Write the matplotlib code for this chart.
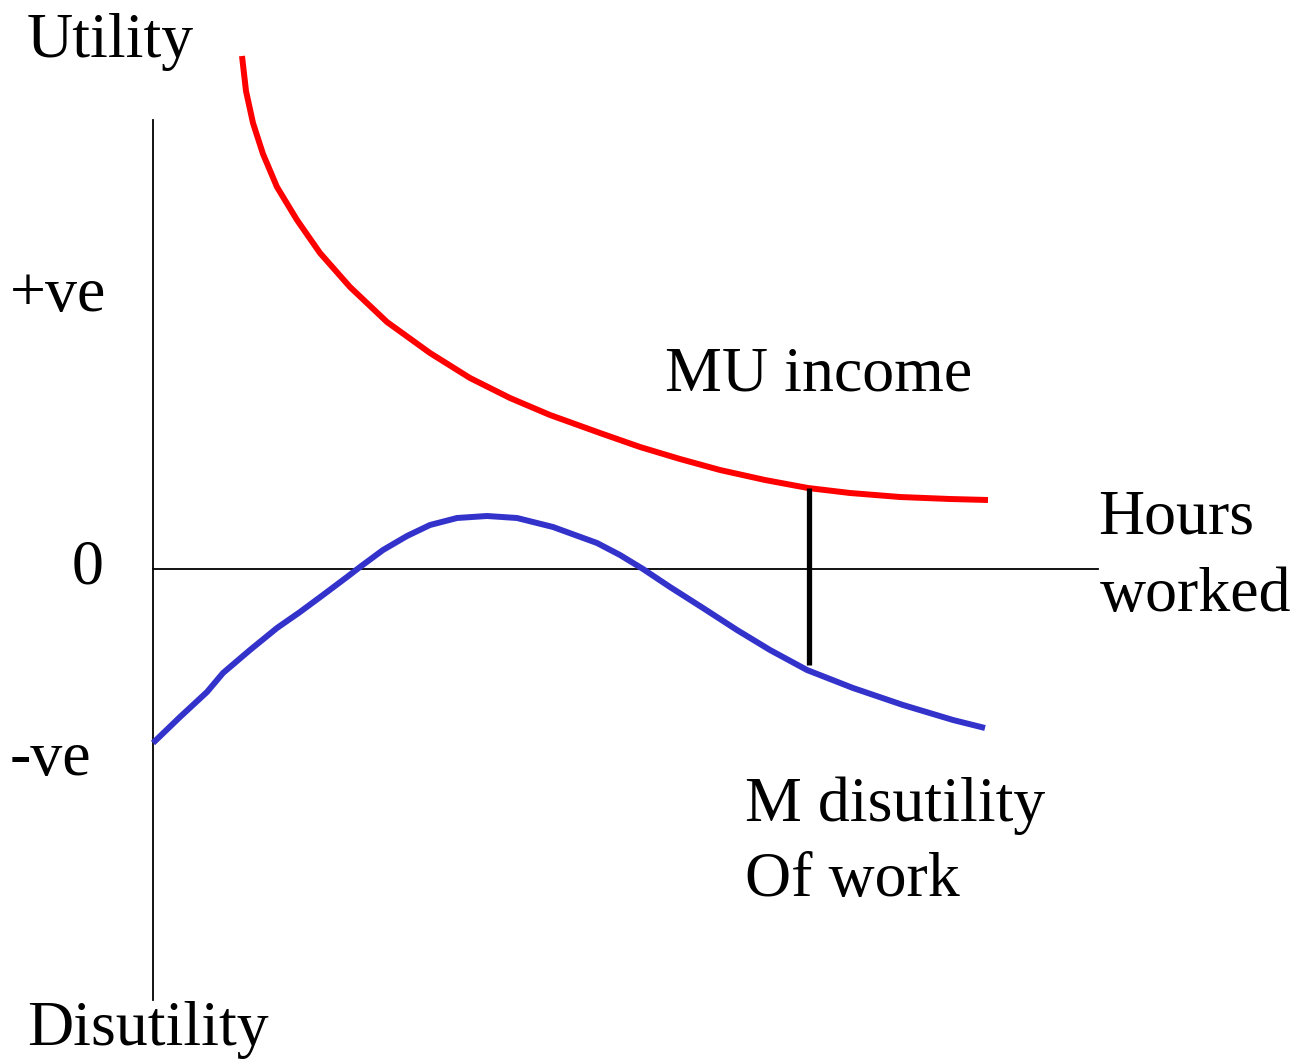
import matplotlib.pyplot as plt

# curve data (hours worked, utility)
mu_x = [0.89, 0.93, 1.00, 1.10, 1.24, 1.44, 1.67, 1.97, 2.34, 2.77, 3.17, 3.57,
        3.97, 4.47, 4.87, 5.27, 5.67, 6.12, 6.55, 6.97, 7.47, 7.97, 8.35]
mu_y = [5.13, 4.78, 4.46, 4.15, 3.82, 3.49, 3.16, 2.82, 2.47, 2.16, 1.91, 1.71,
        1.54, 1.36, 1.22, 1.10, 0.99, 0.89, 0.81, 0.76, 0.72, 0.70, 0.69]

dis_x = [0.00, 0.27, 0.54, 0.70, 0.97, 1.24, 1.47, 1.70, 1.94, 2.07, 2.30, 2.54,
         2.77, 3.04, 3.34, 3.64, 4.00, 4.44, 4.67, 4.90, 5.17, 5.50, 5.84, 6.17,
         6.54, 7.00, 7.50, 8.00, 8.32]
dis_y = [-1.74, -1.48, -1.23, -1.04, -0.81, -0.59, -0.43, -0.26, -0.08, 0.02, 0.19, 0.33,
         0.44, 0.51, 0.53, 0.51, 0.42, 0.26, 0.14, 0.00, -0.18, -0.39, -0.61, -0.81,
         -1.01, -1.19, -1.36, -1.51, -1.59]

gap_x = 6.56
gap_y = [0.81, -0.96]

plt.rcParams['font.family'] = ['Liberation Serif', 'DejaVu Serif']

fig = plt.figure(figsize=(13.06, 10.61), dpi=100)
ax = fig.add_axes([0, 0, 1, 1])
ax.set_xlim(-1.53, 11.53)
ax.set_ylim(-4.92, 5.69)
ax.axis('off')

# axes lines
ax.plot([0, 0], [4.49, -4.31], color='black', lw=1.3)
ax.plot([0, 9.45], [0, 0], color='black', lw=1.3)

ax.plot(mu_x, mu_y, color='#ff0000', lw=4.3, solid_capstyle='butt', solid_joinstyle='round')
ax.plot(dis_x, dis_y, color='#3333cc', lw=4.3, solid_capstyle='butt', solid_joinstyle='round')
ax.plot([gap_x, gap_x], gap_y, color='black', lw=3.8, solid_capstyle='butt')

fs = 46
ax.text(-1.26, 5.27, 'Utility', fontsize=fs, va='center', ha='left')
ax.text(-1.43, 2.73, '+ve', fontsize=fs, va='center', ha='left')
ax.text(-0.65, 0.01, '0', fontsize=fs, va='center', ha='center')
ax.text(-1.43, -1.91, '-ve', fontsize=fs, va='center', ha='left')
ax.text(-1.26, -4.61, 'Disutility', fontsize=fs, va='center', ha='left')
ax.text(5.12, 1.93, 'MU income', fontsize=fs, va='center', ha='left')
ax.text(9.45, 0.50, 'Hours', fontsize=fs, va='center', ha='left')
ax.text(9.47, -0.27, 'worked', fontsize=fs, va='center', ha='left')
ax.text(5.92, -2.37, 'M disutility', fontsize=fs, va='center', ha='left')
ax.text(5.92, -3.12, 'Of work', fontsize=fs, va='center', ha='left')

fig.savefig('out.png', dpi=100)
